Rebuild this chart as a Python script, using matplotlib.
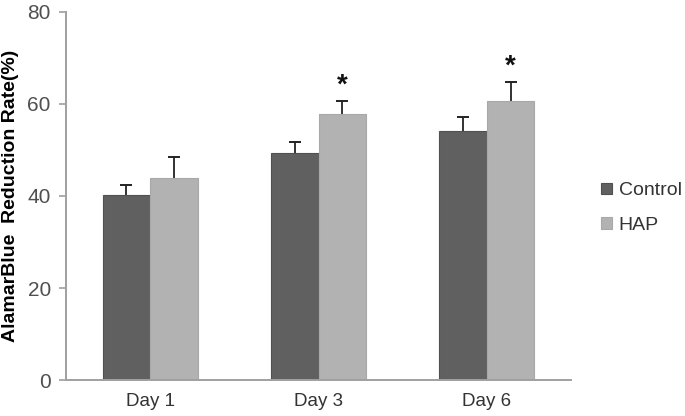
import matplotlib.pyplot as plt
import numpy as np

days = ["Day 1", "Day 3", "Day 6"]
control = [40.3, 49.4, 54.2]
control_err = [2.0, 2.4, 2.9]
hap = [44.0, 57.9, 60.6]
hap_err = [4.5, 2.7, 4.2]
significant = [False, True, True]

plt.rcParams['font.family'] = ['Liberation Sans', 'DejaVu Sans']

fig = plt.figure(figsize=(6.85, 4.16), dpi=100)
ax = fig.add_axes([0.0964, 0.0865, 0.7372, 0.8847])

x = np.arange(len(days))
w = 0.283
groups = [(x - w/2, control, control_err, '#606060', '#505050', 'Control'),
          (x + w/2, hap, hap_err, '#b2b2b2', '#a8a8a8', 'HAP')]
for pos, vals, err, fc, ec, lab in groups:
    ax.bar(pos, vals, w, color=fc, edgecolor=ec, linewidth=0.8, label=lab, zorder=2)
    tops = np.array(vals) + np.array(err)
    # upper-only error bars
    ax.vlines(pos, vals, tops, color='#222222', linewidth=1.3, zorder=1)
    ax.plot(pos, tops, linestyle='', marker='_', markersize=9, mew=1.4, color='#222222', zorder=3)

for i, s in enumerate(significant):
    if s:
        ax.annotate('*', (x[i] + w/2, hap[i] + hap_err[i]), xytext=(0, 2),
                    textcoords='offset points', ha='center', va='bottom',
                    fontsize=20, fontweight='bold', color='#111111')

ax.set_xlim(-0.5, 2.5)
ax.set_ylim(0, 80)
ax.set_yticks([0, 20, 40, 60, 80])
ax.set_xticks(x)
ax.set_xticklabels(days)
ax.tick_params(axis='x', length=0, pad=9, labelsize=13.5, labelcolor='#333333')
ax.tick_params(axis='y', length=5, color='#a0a0a0', width=1.2, labelsize=15, labelcolor='#505050', pad=6)
for side in ['top', 'right']:
    ax.spines[side].set_visible(False)
for side in ['left', 'bottom']:
    ax.spines[side].set_color('#a0a0a0')
    ax.spines[side].set_linewidth(1.4)
ax.set_ylabel('AlamarBlue  Reduction Rate(%)', fontsize=14, fontweight='bold')
ax.yaxis.set_label_coords(-0.093, 0.5)

fig.legend(loc='center left', bbox_to_anchor=(0.852, 0.50), frameon=False,
           handlelength=0.55, handleheight=0.55, handletextpad=0.35, labelspacing=0.9,
           fontsize=14, labelcolor='#333333')

fig.savefig('out.png', dpi=100)
